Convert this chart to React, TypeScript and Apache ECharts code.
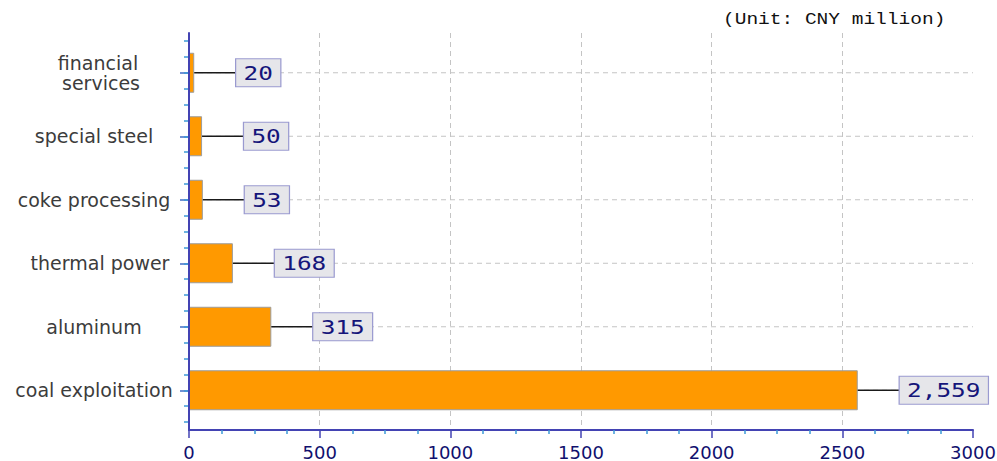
import React, { useEffect, useRef } from "react";
import * as echarts from "echarts";

const categories = [
  "financial services",
  "special steel",
  "coke processing",
  "thermal power",
  "aluminum",
  "coal exploitation",
];
const values = [20, 50, 53, 168, 315, 2559];
const xMin = 0;
const xMax = 3000;
const xInterval = 500;
const unitText = "(Unit: CNY million)";

const labelStyles: Record<string, any> = {
  "financial services": {
    align: "center",
    width: 110,
    overflow: "break",
    lineHeight: 20,
    padding: [14, 0, 0, 14],
  },
  "thermal power": { align: "center", padding: [0, 0, 0, 12] },
};

export default function App() {
  const ref = useRef<HTMLDivElement>(null);
  useEffect(() => {
    if (!ref.current) return;
    const chart = echarts.init(ref.current, null, { renderer: "svg" });
    const catData = categories.map((c) =>
      labelStyles[c] ? { value: c, textStyle: labelStyles[c] } : c
    );
    const points = values.map((v, i) => [v, i]);
    const option: any = {
      animation: false,
      textStyle: { fontFamily: "DejaVu Sans" },
      grid: [
        { left: 189, right: 24, top: 33, bottom: 31, containLabel: false, outerBoundsMode: "none" },
        { left: 189, right: 24, top: 41, bottom: 39, containLabel: false, outerBoundsMode: "none" },
      ],
      graphic: [
        {
          type: "text",
          left: 723,
          top: 12,
          scaleX: 1.22,
          style: {
            text: unitText,
            font: '16px "Liberation Mono"',
            fill: "#111",
          },
        },
      ],
      xAxis: [
        {
          type: "value",
          gridIndex: 0,
          min: xMin,
          max: xMax,
          interval: xInterval,
          axisLine: { show: true, lineStyle: { color: "#4343b3", width: 2 } },
          axisTick: { show: true, length: 8, lineStyle: { color: "#4343b3", width: 1.5 } },
          minorTick: { show: true, splitNumber: 4, length: 4, lineStyle: { color: "#3d9ad6", width: 1.5 } },
          axisLabel: {
            color: "#10106e",
            fontSize: 18,
            margin: 13,
            fontFamily: "DejaVu Sans",
            formatter: (v: number) => String(v),
          },
          splitLine: {
            show: true,
            showMinLine: false,
            showMaxLine: false,
            lineStyle: { color: "#c4c4c4", type: [5, 4], width: 1 },
          },
        },
        { type: "value", gridIndex: 1, min: xMin, max: xMax, show: false },
      ],
      yAxis: [
        {
          type: "value",
          gridIndex: 0,
          min: 0,
          max: 1,
          z: 10,
          axisLine: { show: true, lineStyle: { color: "#4343b3", width: 2 } },
          axisTick: { show: false },
          axisLabel: { show: false },
          splitLine: { show: false },
        },
        {
          type: "category",
          gridIndex: 1,
          position: "left",
          inverse: true,
          data: catData,
          axisLine: { show: false },
          axisTick: { show: true, alignWithLabel: true, length: 9, lineStyle: { color: "#3f6cc4", width: 1.5 } },
          axisLabel: {
            color: "#3c3c3c",
            fontSize: 19,
            fontFamily: "DejaVu Sans",
            align: "center",
            margin: 95,
          },
          splitLine: { show: false },
        },
        {
          type: "value",
          gridIndex: 1,
          position: "left",
          min: 0,
          max: 6,
          interval: 0.25,
          axisLine: { show: false },
          axisTick: { show: true, length: 5, lineStyle: { color: "#3d9ad6", width: 1.5 } },
          axisLabel: { show: false },
          splitLine: { show: false },
        },
      ],
      series: [
        {
          type: "custom",
          xAxisIndex: 1,
          yAxisIndex: 1,
          z: 1,
          clip: false,
          silent: true,
          data: points,
          encode: { x: 0, y: 1 },
          renderItem: (params: any, api: any) => {
            const p = api.coord([0, api.value(1)]);
            const cs = params.coordSys;
            return {
              type: "line",
              shape: { x1: cs.x, y1: p[1], x2: cs.x + cs.width, y2: p[1] },
              style: { stroke: "#c4c4c4", lineWidth: 1, lineDash: [5, 4] },
            };
          },
        },
        {
          type: "bar",
          xAxisIndex: 1,
          yAxisIndex: 1,
          z: 2,
          barWidth: 40,
          data: values,
          itemStyle: { color: "#ff9900", borderColor: "#9c9c9c", borderWidth: 1 },
        },
        {
          type: "custom",
          xAxisIndex: 1,
          yAxisIndex: 1,
          z: 3,
          clip: false,
          silent: true,
          data: points,
          encode: { x: 0, y: 1 },
          renderItem: (params: any, api: any) => {
            const v = api.value(0);
            const p = api.coord([v, api.value(1)]);
            const x0 = p[0];
            const y = p[1];
            return {
              type: "group",
              children: [
                {
                  type: "line",
                  shape: { x1: x0, y1: y, x2: x0 + 42, y2: y },
                  style: { stroke: "#1a1a1a", lineWidth: 1.4 },
                },
                {
                  type: "text",
                  x: x0 + 42,
                  y: y,
                  scaleX: 1.22,
                  style: {
                    text: Number(v).toLocaleString("en-US"),
                    font: '20px "DejaVu Sans Mono"',
                    fill: "#15157a",
                    align: "left",
                    verticalAlign: "middle",
                    lineHeight: 20,
                    backgroundColor: "#e6e6ea",
                    borderColor: "#9a9ad0",
                    borderWidth: 1,
                    padding: [4, 6, 3, 6],
                  },
                },
              ],
            };
          },
        },
      ],
    };
    chart.setOption(option);
    return () => chart.dispose();
  }, []);
  return (
    <div
      ref={ref}
      style={{ position: "fixed", left: 0, top: 0, width: 997, height: 461, background: "#fff" }}
    />
  );
}
